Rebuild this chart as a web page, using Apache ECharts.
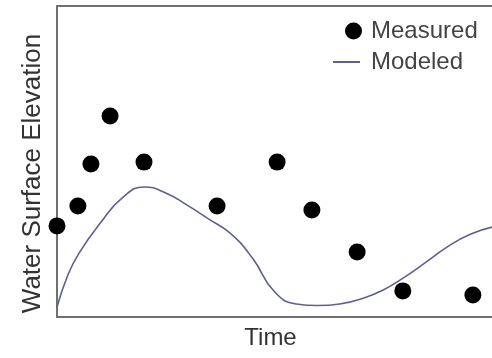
<!DOCTYPE html>
<html>
<head>
<meta charset="utf-8">
<script src="https://cdn.jsdelivr.net/npm/echarts@6/dist/echarts.min.js"></script>
<style>
html,body{margin:0;padding:0;background:#fff;}
#chart{width:492px;height:358px;}
</style>
</head>
<body>
<div id="chart"></div>
<script>
// Measured points: [time, elevation] on a 0-100 relative scale
var measuredX = [0, 4.8, 7.8, 12.2, 20.0, 36.8, 50.6, 58.6, 69.0, 79.5, 95.6];
var measuredY = [29.3, 35.7, 49.2, 64.6, 49.8, 35.7, 49.8, 34.4, 20.9, 8.4, 7.1];
// Modeled curve samples
var modeledX = [0, 2.5, 5, 10, 15, 20, 25, 30, 35, 40, 45, 50, 55, 60, 65, 70, 75, 80, 85, 90, 95, 100];
var modeledY = [3.2, 13.5, 20.4, 30.3, 38.3, 41.8, 39.9, 35.9, 31.4, 26.7, 18.8, 8.1, 4.2, 3.7, 4.2, 5.9, 8.7, 12.9, 17.8, 22.8, 26.6, 28.9];
var xTitle = 'Time';
var yTitle = 'Water Surface Elevation';
var seriesNames = ['Measured', 'Modeled'];

var measured = measuredX.map(function (x, i) { return [x, measuredY[i]]; });
var modeled = modeledX.map(function (x, i) { return [x, modeledY[i]]; });

var lineColor = '#5f5f93';
var axisLine = { show: true, lineStyle: { color: '#707070', width: 2 } };
var font = 'Liberation Sans, Arial, sans-serif';

var chart = echarts.init(document.getElementById('chart'));
chart.setOption({
  animation: false,
  backgroundColor: '#fff',
  grid: { left: 57, right: 0, top: 6, bottom: 41, containLabel: false },
  legend: [
    {
      data: [{ name: seriesNames[0], icon: 'circle', itemStyle: { color: '#000', opacity: 1 } }],
      left: 340, top: 14,
      itemWidth: 17, itemHeight: 17,
      textStyle: { fontSize: 24, color: '#444', fontFamily: font, padding: [0, 0, 0, 4] }
    },
    {
      data: [{ name: seriesNames[1], icon: 'rect', itemStyle: { color: lineColor } }],
      left: 328, top: 45,
      itemWidth: 27, itemHeight: 2,
      textStyle: { fontSize: 24, color: '#444', fontFamily: font, padding: [0, 0, 0, 6] }
    }
  ],
  xAxis: [
    {
      type: 'value', min: 0, max: 100,
      name: xTitle, nameLocation: 'middle', nameGap: 9,
      nameTextStyle: { fontSize: 24, color: '#333', fontFamily: font, padding: [0, 8, 0, 0] },
      axisLine: axisLine, axisTick: { show: false }, axisLabel: { show: false }, splitLine: { show: false }
    },
    {
      type: 'value', min: 0, max: 100, position: 'top',
      axisLine: axisLine, axisTick: { show: false }, axisLabel: { show: false }, splitLine: { show: false }
    }
  ],
  yAxis: {
    type: 'value', min: 0, max: 100,
    name: yTitle, nameLocation: 'middle', nameGap: 11,
    nameTextStyle: { fontSize: 26, color: '#333', fontFamily: font, padding: [0, 24, 0, 0] },
    axisLine: axisLine, axisTick: { show: false }, axisLabel: { show: false }, splitLine: { show: false }
  },
  series: [
    {
      name: seriesNames[0], type: 'scatter', data: measured,
      symbol: 'circle', symbolSize: 17,
      itemStyle: { color: '#000', opacity: 1 }, z: 3
    },
    {
      name: seriesNames[1], type: 'line', data: modeled,
      smooth: 0.5, symbol: 'none',
      lineStyle: { color: lineColor, width: 1.6 },
      itemStyle: { color: lineColor }, z: 2
    }
  ]
});
</script>
</body>
</html>
